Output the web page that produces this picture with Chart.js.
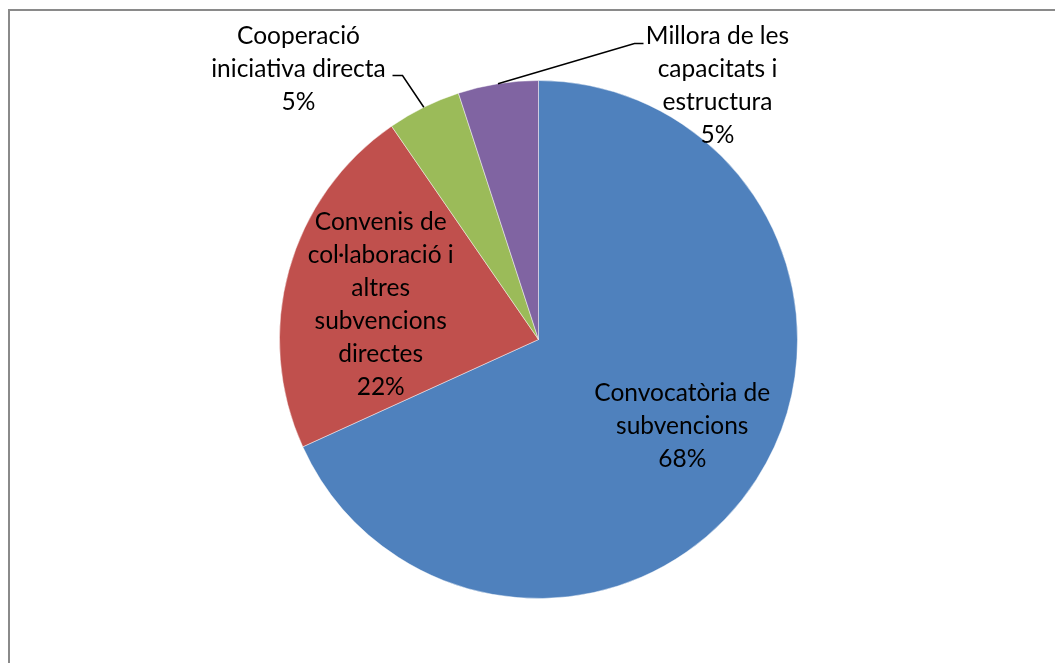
<!DOCTYPE html>
<html>
<head>
<meta charset="utf-8">
<script src="https://cdn.jsdelivr.net/npm/chart.js@4"></script>
<style>
  html, body { margin: 0; padding: 0; background: #ffffff; }
  #wrap { width: 1055px; height: 663px; }
</style>
</head>
<body>
<div id="wrap"><canvas id="myChart" width="1055" height="663"></canvas></div>
<script>
let categories = [
    'Convocatòria de subvencions',
    'Convenis de col·laboració i altres subvencions directes',
    'Cooperació iniciativa directa',
    'Millora de les capacitats i estructura'
];
let shares = [68.2, 22.2, 4.6, 5.0];
let percentLabels = ['68%', '22%', '5%', '5%'];
let labelLines = [
    ['Convocatòria de', 'subvencions'],
    ['Convenis de', 'col·laboració i', 'altres', 'subvencions', 'directes'],
    ['Cooperació', 'iniciativa directa'],
    ['Millora de les', 'capacitats i', 'estructura']
];

let sliceColors = ['#4f81bd', '#c0504d', '#9bbb59', '#8064a2'];

// where each label sits: inside = fraction of radius along mid angle,
// outside = offset of the label centre from the pie centre plus a leader elbow
let labelLayout = [
    { inside: true, factor: 0.66, dy: -6 },
    { inside: true, factor: 0.62, dy: -5, angleShift: -4.8 },
    { inside: false, dx: -240, dy: -270, elbowX: -136, elbowY: -264, side: 'left' },
    { inside: false, dx: 179, dy: -254, elbowX: 96, elbowY: -296, side: 'right' }
];

const fontFamily = 'Lato, "Open Sans", sans-serif';
const fontSize = 24.5;
const lineHeight = 33;

const frame = {
    id: 'frame',
    beforeDraw(chart) {
        const c = chart.ctx;
        c.save();
        c.fillStyle = '#ffffff';
        c.fillRect(0, 0, chart.width, chart.height);
        c.strokeStyle = '#8a8a8a';
        c.lineWidth = 2;
        c.strokeRect(9, 10, chart.width + 20, chart.height + 20);
        c.restore();
    }
};

const sliceLabels = {
    id: 'sliceLabels',
    afterDatasetsDraw(chart) {
        const c = chart.ctx;
        const arcs = chart.getDatasetMeta(0).data;
        c.save();
        c.font = fontSize + 'px ' + fontFamily;
        c.fillStyle = '#000000';
        c.textAlign = 'center';
        c.textBaseline = 'alphabetic';

        arcs.forEach((arc, i) => {
            const p = arc.getProps(['x', 'y', 'startAngle', 'endAngle', 'outerRadius'], true);
            const lay = labelLayout[i];
            const lines = labelLines[i].concat([percentLabels[i]]);
            const mid = (p.startAngle + p.endAngle) / 2;
            let cx, cy;
            if (lay.inside) {
                const a = mid + (lay.angleShift || 0) * Math.PI / 180;
                cx = p.x + Math.cos(a) * p.outerRadius * lay.factor;
                cy = p.y + Math.sin(a) * p.outerRadius * lay.factor + lay.dy;
            } else {
                cx = p.x + lay.dx;
                cy = p.y + lay.dy;
                // leader line from slice edge to the label
                const ex = p.x + Math.cos(mid) * p.outerRadius;
                const ey = p.y + Math.sin(mid) * p.outerRadius;
                const bx = p.x + lay.elbowX;
                const by = p.y + lay.elbowY;
                const tx = lay.side === 'left' ? bx - 10 : bx + 9;
                c.beginPath();
                c.strokeStyle = '#000000';
                c.lineWidth = 1.5;
                c.moveTo(ex, ey);
                c.lineTo(bx, by);
                c.lineTo(tx, by);
                c.stroke();
            }
            const top = cy - (lines.length - 1) * lineHeight / 2;
            lines.forEach((t, k) => {
                c.fillText(t, cx, top + k * lineHeight + 7.7);
            });
        });
        c.restore();
    }
};

new Chart(document.getElementById('myChart'), {
    type: 'pie',
    data: {
        labels: categories,
        datasets: [{
            data: shares,
            backgroundColor: sliceColors,
            borderColor: 'rgba(255,255,255,0.45)',
            borderWidth: 1
        }]
    },
    options: {
        responsive: false,
        devicePixelRatio: 1,
        animation: false,
        layout: {
            padding: { left: 279, right: 257, top: 80, bottom: 64 }
        },
        plugins: {
            legend: { display: false },
            tooltip: { enabled: false }
        }
    },
    plugins: [frame, sliceLabels]
});
</script>
</body>
</html>
